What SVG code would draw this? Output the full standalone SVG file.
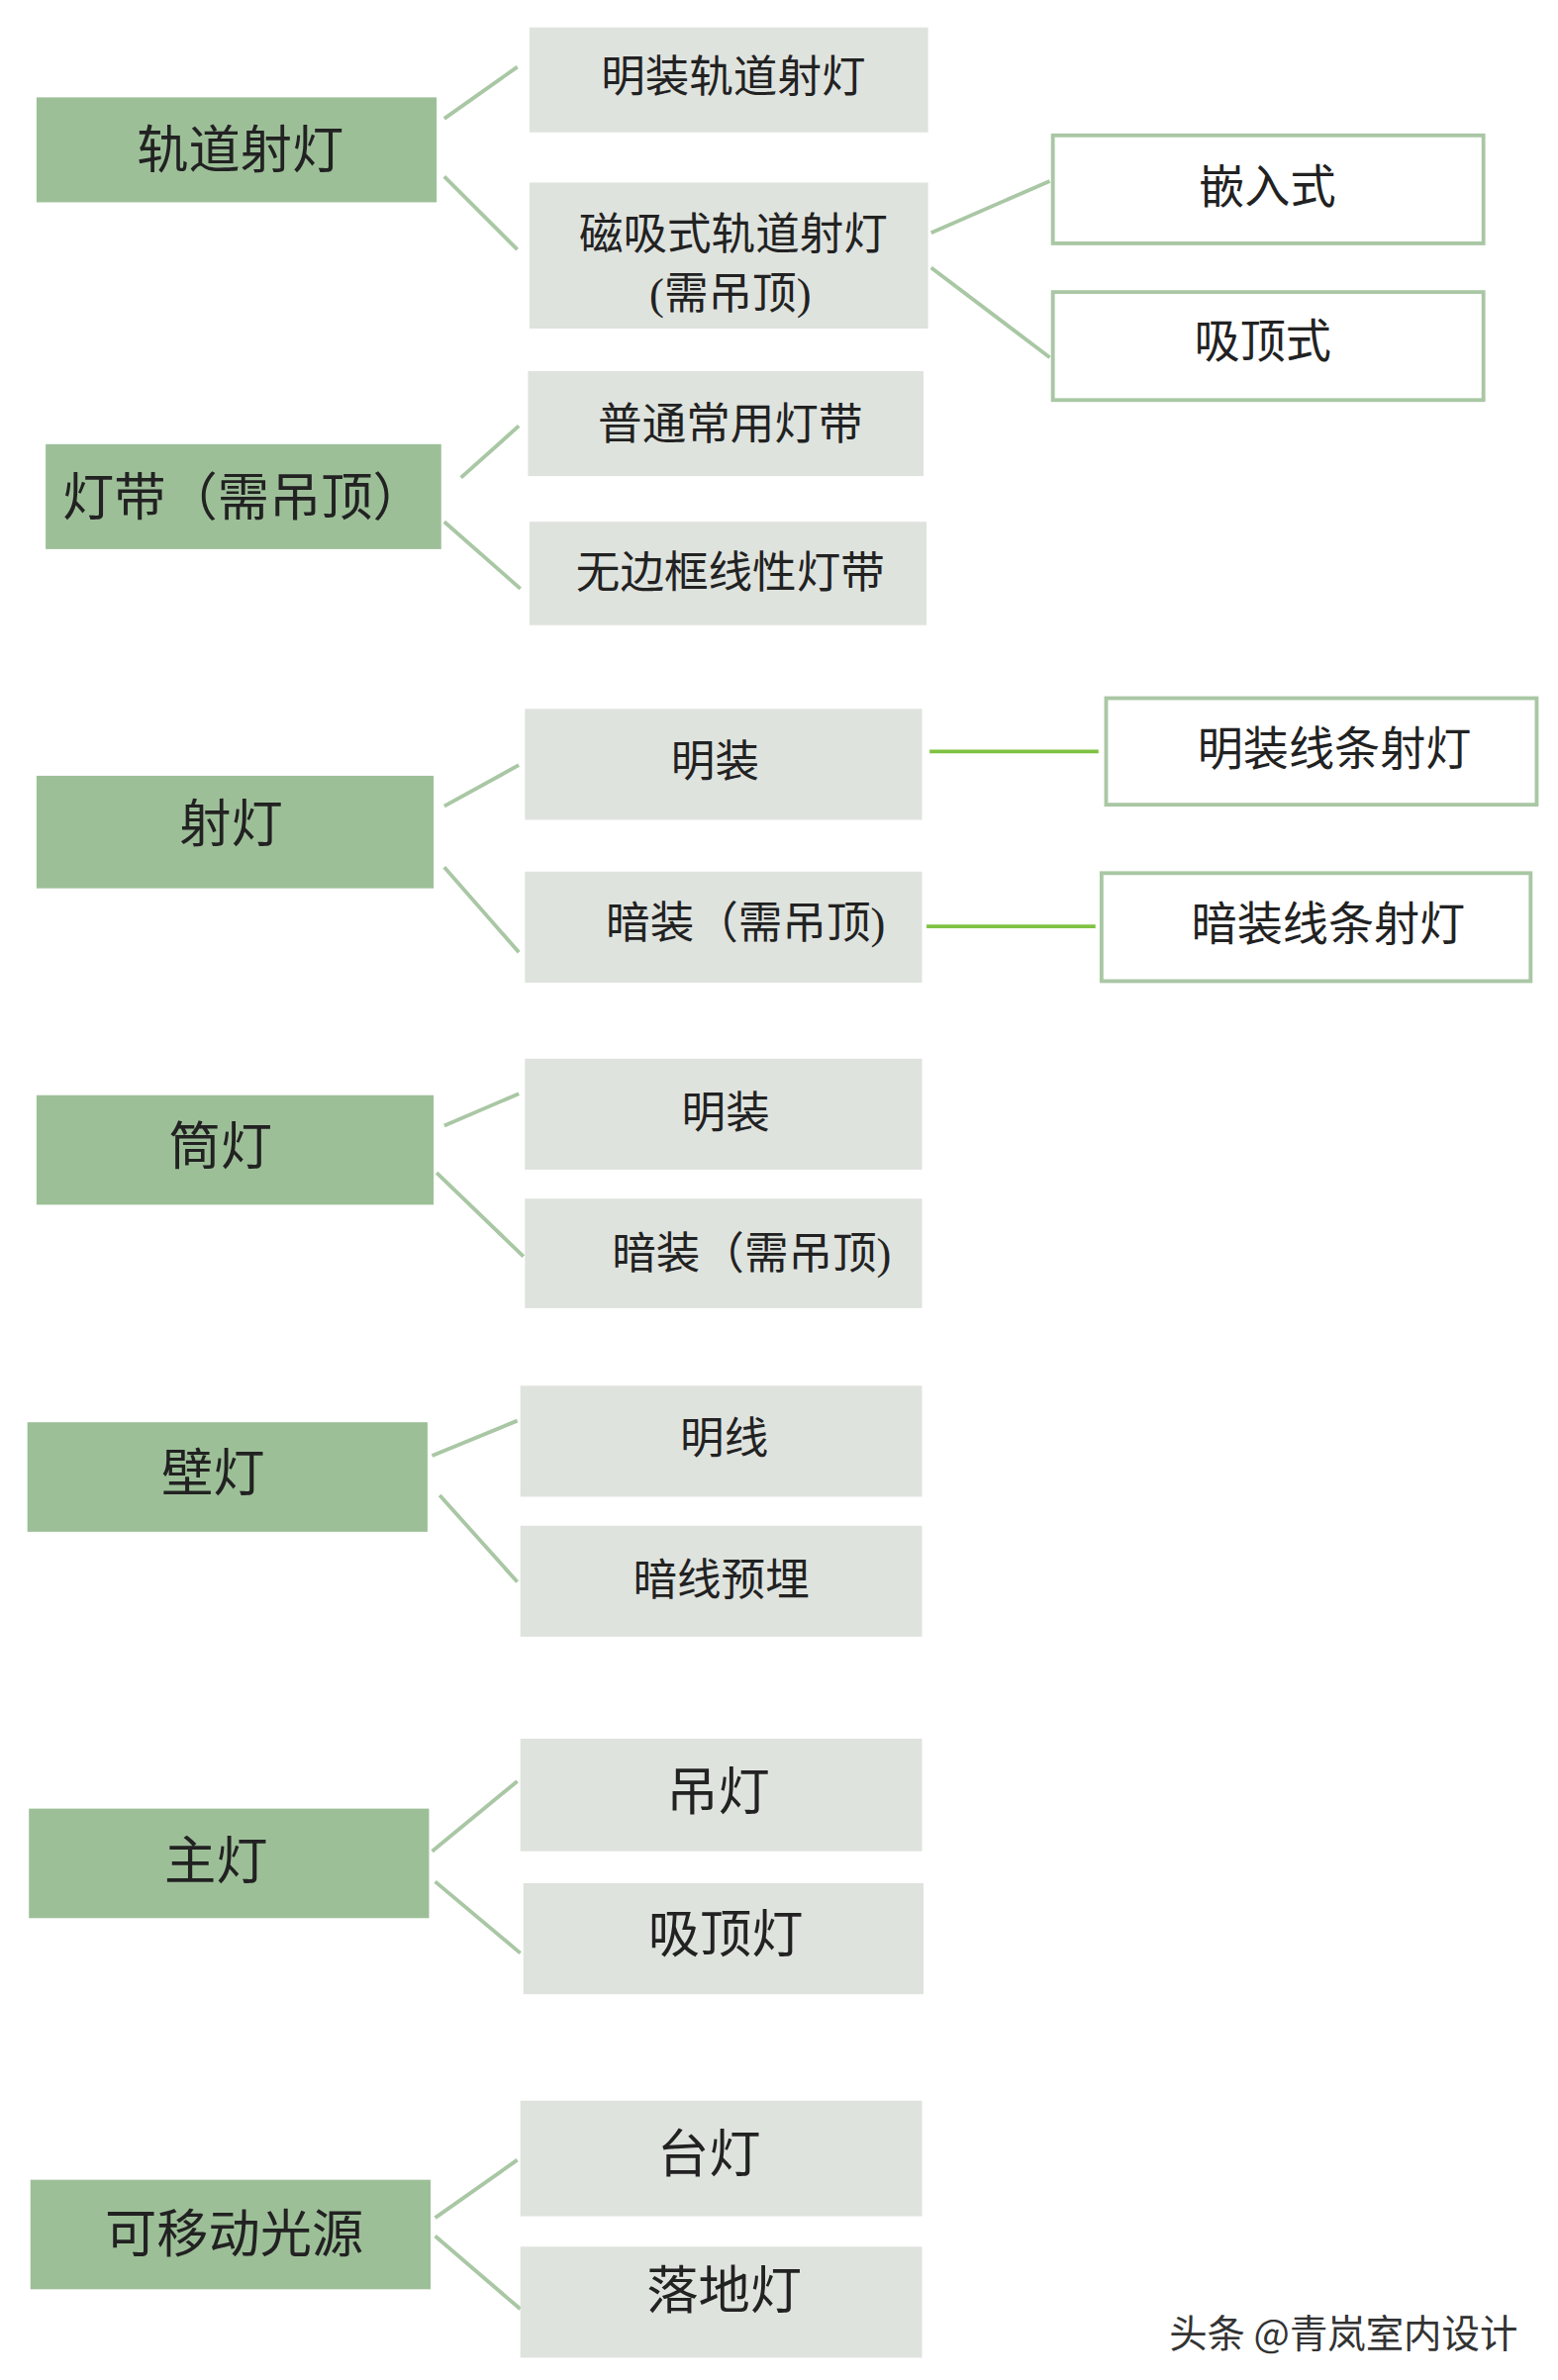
<svg xmlns="http://www.w3.org/2000/svg" width="1574" height="2405" viewBox="0 0 1574 2405">
<style>
text{font-family:"Liberation Serif","Noto Sans CJK SC",serif;fill:#222;text-anchor:middle;dominant-baseline:central}
.L rect{fill:#9dbf98}
.M rect{fill:#dfe3de}
.R rect{fill:#fff;stroke:#a9c7a4;stroke-width:2.5}
.L text{font-size:34px}
.M text{font-size:29px}
.R text{font-size:30px}
#connectors line{stroke:#a9c7a4;stroke-width:2.5}
#connectors line.g{stroke:#7ec242}
</style>
<rect width="1574" height="2405" fill="#fff"/>
<g transform="scale(1.5371)">
<g id="connectors">
<line x1="292" y1="78" x2="340" y2="44"/><line x1="292" y1="116" x2="340" y2="164"/>
<line x1="612" y1="153" x2="690" y2="119"/><line x1="612" y1="176" x2="690" y2="235"/>
<line x1="303" y1="314" x2="341" y2="280"/><line x1="292" y1="343" x2="342" y2="387"/>
<line x1="292" y1="530" x2="341" y2="503"/><line x1="292" y1="570" x2="341" y2="626"/>
<line x1="292" y1="740" x2="341" y2="719"/><line x1="287" y1="771" x2="344" y2="826"/>
<line x1="284" y1="957" x2="340" y2="934"/><line x1="289" y1="983" x2="340" y2="1040"/>
<line x1="284" y1="1217" x2="340" y2="1171"/><line x1="286" y1="1237" x2="342" y2="1284"/>
<line x1="286" y1="1458" x2="340" y2="1420"/><line x1="286" y1="1470" x2="342" y2="1518"/>
<line class="g" x1="611" y1="494" x2="722" y2="494"/><line class="g" x1="609" y1="609" x2="720" y2="609"/>
</g>
<g id="n1" class="L"><rect x="24" y="64" width="263" height="69"/><text x="158" y="99">轨道射灯</text></g>
<g id="n2" class="L"><rect x="30" y="292" width="260" height="69"/><text x="160" y="327">灯带（需吊顶）</text></g>
<g id="n3" class="L"><rect x="24" y="510" width="261" height="74"/><text x="152" y="542">射灯</text></g>
<g id="n4" class="L"><rect x="24" y="720" width="261" height="72"/><text x="145" y="754">筒灯</text></g>
<g id="n5" class="L"><rect x="18" y="935" width="263" height="72"/><text x="140" y="969">壁灯</text></g>
<g id="n6" class="L"><rect x="19" y="1189" width="263" height="72"/><text x="142" y="1224">主灯</text></g>
<g id="n7" class="L"><rect x="20" y="1433" width="263" height="72"/><text x="154" y="1469">可移动光源</text></g>
<g id="m1" class="M"><rect x="348" y="18" width="262" height="69"/><text x="482" y="51">明装轨道射灯</text></g>
<g id="m2" class="M"><rect x="348" y="120" width="262" height="96"/><text x="482" y="154">磁吸式轨道射灯</text><text x="480" y="193">(需吊顶)</text></g>
<g id="m3" class="M"><rect x="347" y="244" width="260" height="69"/><text x="480" y="279">普通常用灯带</text></g>
<g id="m4" class="M"><rect x="348" y="343" width="261" height="68"/><text x="480" y="377">无边框线性灯带</text></g>
<g id="m5" class="M"><rect x="345" y="466" width="261" height="73"/><text x="470" y="501">明装</text></g>
<g id="m6" class="M"><rect x="345" y="573" width="261" height="73"/><text x="490" y="607">暗装（需吊顶)</text></g>
<g id="m7" class="M"><rect x="345" y="696" width="261" height="73"/><text x="477" y="732">明装</text></g>
<g id="m8" class="M"><rect x="345" y="788" width="261" height="72"/><text x="494" y="824">暗装（需吊顶)</text></g>
<g id="m9" class="M"><rect x="342" y="911" width="264" height="73"/><text x="476" y="946">明线</text></g>
<g id="m10" class="M"><rect x="342" y="1003" width="264" height="73"/><text x="474" y="1039">暗线预埋</text></g>
<g id="m11" class="M"><rect x="342" y="1143" width="264" height="74"/><text x="472" y="1178" style="font-size:34px">吊灯</text></g>
<g id="m12" class="M"><rect x="344" y="1238" width="263" height="73"/><text x="477" y="1272" style="font-size:34px">吸顶灯</text></g>
<g id="m13" class="M"><rect x="342" y="1381" width="264" height="76"/><text x="466" y="1416" style="font-size:34px">台灯</text></g>
<g id="m14" class="M"><rect x="342" y="1477" width="264" height="73"/><text x="476" y="1506" style="font-size:34px">落地灯</text></g>
<g id="r1" class="R"><rect x="692" y="89" width="283" height="71"/><text x="833" y="123">嵌入式</text></g>
<g id="r2" class="R"><rect x="692" y="192" width="283" height="71"/><text x="830" y="225">吸顶式</text></g>
<g id="r3" class="R"><rect x="727" y="459" width="283" height="70"/><text x="877" y="493">明装线条射灯</text></g>
<g id="r4" class="R"><rect x="724" y="574" width="282" height="71"/><text x="873" y="608">暗装线条射灯</text></g>
<text x="883" y="1532" style="font-size:25px;fill:#333;font-family:'Noto Sans CJK SC',sans-serif">头条 @青岚室内设计</text>
</g>
</svg>
